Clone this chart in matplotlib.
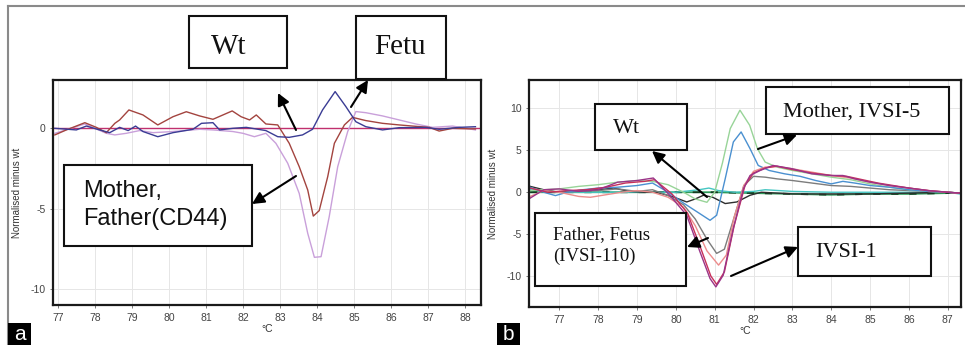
"""
Curvas de HRM (normalizado menos wt) - painel a (CD44) e painel b (IVSI).
Saída: out.png (965x345)
"""
import matplotlib
matplotlib.use("Agg")
import matplotlib.pyplot as plt
from matplotlib.patches import Rectangle, FancyArrowPatch
from matplotlib.lines import Line2D

W, H = 965, 345

# ── painel a ──────────────────────────────────────────────
a_wt_x = [76.9, 88.4]
a_wt_y = [0.0, 0.0]

a_mae_x = [76.92, 77.23, 77.73, 78.04, 78.31, 78.54, 78.67, 78.92, 79.30, 79.70,
           80.11, 80.47, 80.83, 81.19, 81.71, 81.95, 82.18, 82.36, 82.62, 82.94,
           83.25, 83.52, 83.75, 83.90, 84.06, 84.29, 84.47, 84.74, 84.96, 85.32,
           85.77, 86.22, 86.58, 87.03, 87.30, 87.66, 88.28]
a_mae_y = [-0.41, -0.10, 0.35, 0.06, -0.27, 0.31, 0.52, 1.14, 0.83, 0.21,
           0.72, 1.03, 0.77, 0.56, 1.08, 0.72, 0.52, 0.83, 0.27, 0.21,
           -0.93, -2.38, -3.83, -5.45, -5.11, -3.00, -0.93, 0.21, 0.68, 0.48,
           0.31, 0.21, 0.14, 0.06, -0.17, 0.00, -0.04]

a_pai_x = [76.92, 77.73, 78.31, 78.54, 78.85, 79.21, 79.57, 80.11, 80.83, 81.19,
           81.73, 82.00, 82.31, 82.62, 82.89, 83.21, 83.52, 83.75, 83.93, 84.11,
           84.33, 84.56, 84.83, 85.05, 85.32, 85.77, 86.22, 86.67, 87.12, 87.66,
           88.28]
a_pai_y = [-0.31, 0.27, -0.31, -0.41, -0.31, -0.14, -0.27, -0.20, -0.06, -0.10,
           -0.20, -0.31, -0.52, -0.31, -0.93, -2.17, -4.04, -6.52, -8.01, -7.97,
           -5.49, -2.38, -0.20, 1.04, 0.97, 0.77, 0.52, 0.27, 0.06, 0.14,
           -0.10]

a_feto_x = [76.92, 77.50, 77.77, 78.13, 78.40, 78.67, 78.90, 79.10, 79.30, 79.70,
            80.11, 80.65, 80.88, 81.19, 81.37, 81.73, 82.09, 82.62, 82.94, 83.25,
            83.61, 83.88, 84.15, 84.49, 84.78, 85.05, 85.32, 85.77, 86.22, 86.94,
            87.30, 87.84, 88.28]
a_feto_y = [0.00, -0.10, 0.14, -0.10, -0.27, 0.06, -0.14, 0.14, -0.20, -0.52,
            -0.27, -0.06, 0.31, 0.35, -0.10, 0.00, 0.06, -0.14, -0.52, -0.56,
            -0.41, -0.06, 1.14, 2.28, 1.35, 0.41, 0.10, -0.10, 0.04, 0.06,
            -0.06, 0.06, 0.10]

a_xticks = [77, 78, 79, 80, 81, 82, 83, 84, 85, 86, 87, 88]
a_yticks = [0, -5, -10]

# ── painel b ──────────────────────────────────────────────
b_verde_x = [76.25, 76.6, 77.0, 77.5, 78.0, 78.5, 79.0, 79.4, 79.8, 80.2, 80.5,
             80.8, 81.0, 81.2, 81.4, 81.65, 81.9, 82.1, 82.3, 82.6, 83.0, 83.5,
             84.0, 84.5, 85.0, 85.5, 86.0, 86.5, 87.0, 87.3]
b_verde_y = [0.2, 0.3, 0.4, 0.7, 0.9, 1.2, 1.4, 1.3, 0.9, 0.0, -0.8,
             -1.2, 0.0, 3.5, 7.6, 9.8, 8.0, 5.2, 3.6, 3.0, 2.6, 2.2,
             1.8, 1.5, 1.0, 0.6, 0.3, 0.1, 0.0, -0.1]

b_azul_x = [76.25, 76.6, 76.9, 77.2, 77.6, 78.0, 78.5, 79.0, 79.4, 79.8, 80.2,
            80.5, 80.88, 81.05, 81.27, 81.48, 81.68, 81.91, 82.12, 82.4, 82.8,
            83.2, 83.6, 84.0, 84.3, 84.6, 85.0, 85.5, 86.0, 86.5, 87.0, 87.3]
b_azul_y = [0.6, 0.0, -0.4, 0.0, 0.3, 0.5, 0.6, 0.8, 1.1, 0.0, -1.3,
            -2.2, -3.35, -2.75, 1.6, 6.0, 7.2, 5.2, 3.2, 2.6, 2.2,
            1.9, 1.4, 1.0, 1.3, 1.1, 0.8, 0.6, 0.3, 0.1, 0.0, -0.1]

b_rosa_x = [76.25, 76.6, 77.0, 77.5, 77.8, 78.2, 78.6, 79.0, 79.4, 79.8, 80.2,
            80.5, 80.8, 81.1, 81.3, 81.5, 81.75, 82.0, 82.3, 82.6, 83.0, 83.5,
            84.0, 84.5, 85.0, 85.5, 86.0, 86.5, 87.0, 87.3]
b_rosa_y = [-0.5, 0.2, 0.0, -0.5, -0.6, -0.3, 0.0, 0.2, 0.0, -0.6, -1.8,
            -4.0, -7.0, -8.7, -7.5, -3.0, 0.8, 2.5, 3.0, 3.1, 2.8, 2.4,
            2.0, 1.7, 1.2, 0.8, 0.5, 0.2, 0.0, -0.1]

b_roxo_x = [76.25, 76.6, 77.0, 77.5, 78.0, 78.5, 79.0, 79.42, 79.85, 80.28, 80.62,
            80.88, 81.03, 81.22, 81.48, 81.74, 81.91, 82.17, 82.5, 83.0, 83.5,
            84.0, 84.3, 84.6, 85.0, 85.5, 86.0, 86.5, 87.0, 87.3]
b_roxo_y = [-0.7, 0.3, 0.4, 0.1, 0.3, 1.2, 1.4, 1.7, -0.4, -2.75, -7.1,
            -10.3, -11.3, -9.9, -4.3, 0.4, 2.0, 2.6, 3.2, 2.8, 2.2,
            2.0, 2.0, 1.6, 1.2, 0.8, 0.5, 0.2, 0.0, -0.1]

b_carmim_x = [76.25, 76.7, 77.2, 77.7, 78.2, 78.7, 79.2, 79.45, 79.9, 80.3, 80.65,
              80.9, 81.05, 81.25, 81.5, 81.78, 82.0, 82.3, 82.6, 83.0, 83.5,
              84.0, 84.4, 84.8, 85.2, 85.6, 86.0, 86.5, 87.0, 87.3]
b_carmim_y = [0.5, 0.0, 0.2, 0.3, 0.6, 1.1, 1.3, 1.5, -0.2, -2.5, -6.8,
              -10.0, -11.0, -9.5, -4.0, 0.8, 2.3, 2.9, 3.1, 2.7, 2.3,
              2.0, 1.9, 1.5, 1.1, 0.8, 0.5, 0.2, 0.0, -0.1]

b_cinza_x = [76.25, 76.6, 77.0, 77.5, 78.0, 78.5, 79.0, 79.4, 79.8, 80.2, 80.5,
             80.8, 81.05, 81.25, 81.5, 81.75, 82.0, 82.3, 82.6, 83.0, 83.5,
             84.0, 84.5, 85.0, 85.5, 86.0, 86.5, 87.0, 87.3]
b_cinza_y = [0.5, 0.2, 0.0, 0.1, 0.2, 0.4, 0.1, 0.3, -0.4, -1.5, -3.2,
             -5.6, -7.3, -6.8, -3.0, 0.8, 1.9, 1.8, 1.6, 1.4, 1.1,
             0.8, 0.7, 0.5, 0.3, 0.2, 0.1, 0.0, -0.1]

b_preto_x = [76.25, 76.6, 77.0, 77.5, 78.0, 78.4, 78.8, 79.2, 79.5, 79.9, 80.28,
             80.5, 80.71, 80.95, 81.27, 81.57, 81.91, 82.2, 82.6, 83.0, 84.0,
             85.0, 86.0, 87.0, 87.3]
b_preto_y = [0.7, 0.3, 0.0, 0.2, 0.3, 0.5, 0.1, 0.0, 0.0, -0.5, -1.16,
             -0.8, -0.36, -0.6, -1.35, -1.16, -0.36, 0.0, -0.1, -0.2, -0.2,
             -0.2, -0.1, 0.0, -0.1]

b_ciano_x = [76.25, 77.0, 78.0, 79.0, 80.0, 80.6, 80.85, 81.1, 81.5, 82.0, 82.3,
             83.0, 84.0, 85.0, 86.0, 87.0, 87.3]
b_ciano_y = [0.3, 0.0, 0.0, 0.0, 0.0, 0.3, 0.5, 0.2, 0.0, 0.1, 0.3,
             0.1, 0.0, 0.0, 0.0, 0.0, -0.2]

b_wt_x = [76.25, 77.0, 78.0, 79.0, 80.0, 81.0, 82.0, 83.0, 84.0, 85.0, 86.0,
          87.0, 87.3]
b_wt_y = [0.0, 0.0, 0.0, 0.0, 0.0, 0.0, -0.1, -0.2, -0.3, -0.2, -0.2,
          -0.1, -0.1]

b_xticks = [77, 78, 79, 80, 81, 82, 83, 84, 85, 86, 87]
b_yticks = [10, 5, 0, -5, -10]

SANS = ["Liberation Sans", "DejaVu Sans"]
SERIF = ["Liberation Serif", "DejaVu Serif"]
plt.rcParams["font.family"] = SANS
plt.rcParams["axes.unicode_minus"] = False


def fx(px):
    return px / W


def fy(py):
    return 1 - py / H


def estilo_eixo(ax, xticks, yticks, xlim, ylim):
    ax.set_xlim(*xlim)
    ax.set_ylim(*ylim)
    ax.set_xticks(xticks)
    ax.set_yticks(yticks)
    ax.grid(color="#e6e6e6", lw=0.7)
    ax.set_axisbelow(True)
    for s in ax.spines.values():
        s.set_linewidth(1.6)
        s.set_color("#1a1a1a")
    ax.tick_params(labelsize=7.5, labelcolor="#444444", color="#666666",
                   length=2.5, width=0.6, pad=3)
    ax.set_ylabel("Normalised minus wt", fontsize=7, color="#333333", labelpad=6)
    ax.set_xlabel("°C", fontsize=7.5, color="#333333", labelpad=1)


def caixa(fig, x0, y0, x1, y1):
    fig.add_artist(Rectangle((fx(x0), fy(y1)), fx(x1) - fx(x0), fy(y0) - fy(y1),
                             transform=fig.transFigure, facecolor="white",
                             edgecolor="#111111", lw=1.5, zorder=5))


def seta(fig, p0, p1):
    fig.add_artist(FancyArrowPatch((fx(p0[0]), fy(p0[1])), (fx(p1[0]), fy(p1[1])),
                                   transform=fig.transFigure, arrowstyle="-|>",
                                   mutation_scale=18, lw=1.5, color="black",
                                   shrinkA=0, shrinkB=0, zorder=6))


def texto(fig, px, py, s, size, fam):
    fig.text(fx(px), fy(py), s, fontsize=size, family=fam, ha="left",
             va="baseline", color="#111111", zorder=7)


fig = plt.figure(figsize=(W / 100, H / 100), dpi=100)

# moldura cinza externa
fig.add_artist(Line2D([fx(8), fx(965)], [fy(6), fy(6)], transform=fig.transFigure,
                      color="#8a8a8a", lw=1.5))
fig.add_artist(Line2D([fx(8), fx(8)], [fy(6), fy(345)], transform=fig.transFigure,
                      color="#8a8a8a", lw=1.5))

# painel a
ax1 = fig.add_axes([fx(53), fy(305), fx(481) - fx(53), fy(80) - fy(305)])
ax1.plot(a_wt_x, a_wt_y, color="#c0306e", lw=1.0)
ax1.plot(a_pai_x, a_pai_y, color="#c9a0da", lw=1.0)
ax1.plot(a_mae_x, a_mae_y, color="#a3443f", lw=1.0)
ax1.plot(a_feto_x, a_feto_y, color="#3a3c94", lw=1.0)
estilo_eixo(ax1, a_xticks, a_yticks, (76.87, 88.43), (-10.97, 3.0))

# painel b
ax2 = fig.add_axes([fx(529), fy(307), fx(961) - fx(529), fy(80) - fy(307)])
ax2.plot(b_wt_x, b_wt_y, color="#2e9a5a", lw=1.3)
ax2.plot(b_wt_x, b_wt_y, color="#123c20", lw=1.3, ls=(0, (4, 6)))
ax2.plot(b_ciano_x, b_ciano_y, color="#45c6c2", lw=1.0)
ax2.plot(b_preto_x, b_preto_y, color="#2e2e2e", lw=1.0)
ax2.plot(b_cinza_x, b_cinza_y, color="#7c7c7c", lw=1.0)
ax2.plot(b_verde_x, b_verde_y, color="#98d498", lw=1.0)
ax2.plot(b_azul_x, b_azul_y, color="#4a90d0", lw=1.0)
ax2.plot(b_rosa_x, b_rosa_y, color="#ec8c8c", lw=1.0)
ax2.plot(b_carmim_x, b_carmim_y, color="#c8305a", lw=1.0)
ax2.plot(b_roxo_x, b_roxo_y, color="#9a3488", lw=1.0)
estilo_eixo(ax2, b_xticks, b_yticks, (76.22, 87.34), (-13.7, 13.4))

# anotações painel a
caixa(fig, 189, 16, 287, 68)
texto(fig, 211, 54, "Wt", 21, SERIF)
caixa(fig, 356, 16, 446, 79)
texto(fig, 374, 54, "Fetu", 21, SERIF)
caixa(fig, 64, 165, 252, 246)
texto(fig, 83, 197, "Mother,", 17, SANS)
texto(fig, 83, 225, "Father(CD44)", 17, SANS)
seta(fig, (296, 130), (278, 93))
seta(fig, (351, 107), (368, 80))
seta(fig, (296, 176), (252, 204))

# anotações painel b
caixa(fig, 595, 104, 687, 150)
texto(fig, 613, 133, "Wt", 16, SERIF)
caixa(fig, 766, 87, 949, 134)
texto(fig, 783, 117, "Mother, IVSI-5", 16, SERIF)
caixa(fig, 535, 213, 686, 286)
texto(fig, 553, 239, "Father, Fetus", 13.5, SERIF)
texto(fig, 553, 261, "(IVSI-110)", 13.5, SERIF)
caixa(fig, 798, 227, 931, 276)
texto(fig, 815, 257, "IVSI-1", 16, SERIF)
seta(fig, (707, 197), (652, 151))
seta(fig, (758, 149), (797, 135))
seta(fig, (708, 238), (687, 247))
seta(fig, (731, 276), (798, 247))

# rótulos dos painéis
for x0, x1, letra in [(8, 31, "a"), (497, 520, "b")]:
    fig.add_artist(Rectangle((fx(x0), 0), fx(x1) - fx(x0), fy(323),
                             transform=fig.transFigure, facecolor="black",
                             edgecolor="none", zorder=8))
    fig.text(fx((x0 + x1) / 2), fy(334), letra, color="white", fontsize=15,
             ha="center", va="center", family=SANS, zorder=9)

fig.savefig("out.png", dpi=100)
